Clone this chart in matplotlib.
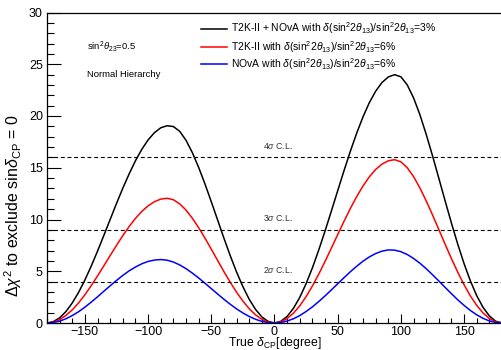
import numpy as np
import matplotlib
matplotlib.use('Agg')
import matplotlib.pyplot as plt
from matplotlib.ticker import MultipleLocator

plt.rcParams['font.family'] = ['Liberation Sans', 'DejaVu Sans']
plt.rcParams['mathtext.fontset'] = 'custom'
plt.rcParams['mathtext.rm'] = 'Liberation Sans'
plt.rcParams['mathtext.it'] = 'Liberation Sans:italic'
plt.rcParams['mathtext.bf'] = 'Liberation Sans:bold'

# ── Data ────────────────────────────────────────────────────────────────────
delta_cp = np.arange(-180, 181, 5)

chi2_combined = [
    0.00, 0.13, 0.50, 1.11, 1.94, 2.96, 4.16, 5.50, 6.95, 8.47,
    10.01, 11.55, 13.03, 14.41, 15.68, 16.78, 17.69, 18.39, 18.86, 19.06,
    18.98, 18.52, 17.65, 16.46, 15.03, 13.43, 11.71, 9.95, 8.19, 6.50,
    4.92, 3.51, 2.29, 1.31, 0.59, 0.15, 0.00,
    0.16, 0.64, 1.42, 2.48, 3.80, 5.33, 7.05, 8.89, 10.82, 12.78,
    14.72, 16.59, 18.33, 19.91, 21.28, 22.39, 23.23, 23.77, 23.99, 23.79,
    23.01, 21.76, 20.14, 18.24, 16.17, 13.99, 11.80, 9.65, 7.61, 5.73,
    4.06, 2.64, 1.51, 0.68, 0.17, 0.00,
]

chi2_t2k = [
    0.00, 0.08, 0.33, 0.73, 1.27, 1.94, 2.73, 3.61, 4.55, 5.53,
    6.52, 7.50, 8.45, 9.32, 10.11, 10.78, 11.32, 11.72, 11.97, 12.05,
    11.91, 11.51, 10.91, 10.12, 9.21, 8.20, 7.13, 6.04, 4.96, 3.93,
    2.97, 2.12, 1.38, 0.79, 0.35, 0.09, 0.00,
    0.11, 0.43, 0.95, 1.66, 2.55, 3.58, 4.72, 5.95, 7.24, 8.54,
    9.83, 11.06, 12.21, 13.23, 14.12, 14.83, 15.35, 15.67, 15.78, 15.57,
    15.01, 14.15, 13.06, 11.81, 10.45, 9.03, 7.61, 6.22, 4.90, 3.69,
    2.61, 1.70, 0.97, 0.43, 0.11, 0.00,
]

chi2_nova = [
    0.00, 0.05, 0.18, 0.41, 0.72, 1.09, 1.53, 2.02, 2.53, 3.07,
    3.60, 4.11, 4.60, 5.04, 5.41, 5.72, 5.95, 6.08, 6.13, 6.07,
    5.89, 5.61, 5.25, 4.82, 4.35, 3.84, 3.32, 2.80, 2.29, 1.81,
    1.36, 0.97, 0.63, 0.36, 0.16, 0.04, 0.00,
    0.05, 0.19, 0.41, 0.72, 1.11, 1.56, 2.07, 2.62, 3.20, 3.79,
    4.38, 4.95, 5.48, 5.97, 6.38, 6.71, 6.94, 7.06, 7.04, 6.89,
    6.62, 6.24, 5.78, 5.25, 4.67, 4.06, 3.44, 2.83, 2.24, 1.70,
    1.21, 0.79, 0.45, 0.20, 0.05, 0.00,
]

series_labels = [
    r'T2K-II + NOvA with $\delta$(sin$^{2}$2$\theta_{13}$)/sin$^{2}$2$\theta_{13}$=3%',
    r'T2K-II with $\delta$(sin$^{2}$2$\theta_{13}$)/sin$^{2}$2$\theta_{13}$=6%',
    r'NOvA with $\delta$(sin$^{2}$2$\theta_{13}$)/sin$^{2}$2$\theta_{13}$=6%',
]
series_colors = ['black', '#ff0000', '#0000ff']

cl_levels = [4, 9, 16]
cl_labels = [r'2$\sigma$ C.L.', r'3$\sigma$ C.L.', r'4$\sigma$ C.L.']

# ── Figure ──────────────────────────────────────────────────────────────────
W, H = 502, 350
fig = plt.figure(figsize=(W / 100, H / 100), dpi=100)
ax = fig.add_axes([47 / W, 27 / H, 455 / W, 310.5 / H])

for y, col in zip([chi2_combined, chi2_t2k, chi2_nova], series_colors):
    ax.plot(delta_cp, y, color=col, lw=1.1)

for lev, txt in zip(cl_levels, cl_labels):
    ax.axhline(lev, color='black', lw=0.8, ls=(0, (3.5, 2.5)))
    ax.text(-9, lev + 1.1, txt, fontsize=6.3, color='#333333', ha='left', va='center')

ax.text(-148, 26.7, r'sin$^{2}\theta_{23}$=0.5', fontsize=6.8, ha='left', va='center')
ax.text(-148, 24.0, 'Normal Hierarchy', fontsize=6.8, ha='left', va='center')

ax.set_xlim(-180, 180)
ax.set_ylim(0, 30)
ax.xaxis.set_major_locator(MultipleLocator(50))
ax.xaxis.set_minor_locator(MultipleLocator(10))
ax.yaxis.set_major_locator(MultipleLocator(5))
ax.yaxis.set_minor_locator(MultipleLocator(1))
ax.tick_params(axis='both', which='both', direction='in', top=False, right=False,
               labelsize=9, width=0.8, pad=3)
ax.tick_params(axis='x', which='both', pad=2.2)
ax.tick_params(axis='y', which='major', length=10)
ax.tick_params(axis='y', which='minor', length=5)
ax.tick_params(axis='x', which='major', length=6.8)
ax.tick_params(axis='x', which='minor', length=3.5)
for s in ax.spines.values():
    s.set_linewidth(0.9)

# legend entries (ROOT-style TLegend, no frame)
row_y = [28.5, 47, 64]          # pixel rows from the top of the figure
for ry, lab, col in zip(row_y, series_labels, series_colors):
    yf = 1 - ry / H
    fig.add_artist(plt.Line2D([201 / W, 227 / W], [yf, yf], color=col, lw=1.1))
    fig.text(231 / W, 1 - (ry + 3.6) / H, lab, fontsize=7.5, ha='left', va='baseline')

fig.text(275 / W, 3.6 / H, r'True $\delta_{\mathrm{CP}}$[degree]', fontsize=8.8,
         ha='center', va='baseline')
fig.text(13 / W, 1 - 206 / H, r'$\Delta\chi^{2}$ to exclude sin$\delta_{\mathrm{CP}}$ = 0',
         fontsize=11.5, rotation=90, ha='center', va='center')

fig.savefig('out.png', dpi=100)
